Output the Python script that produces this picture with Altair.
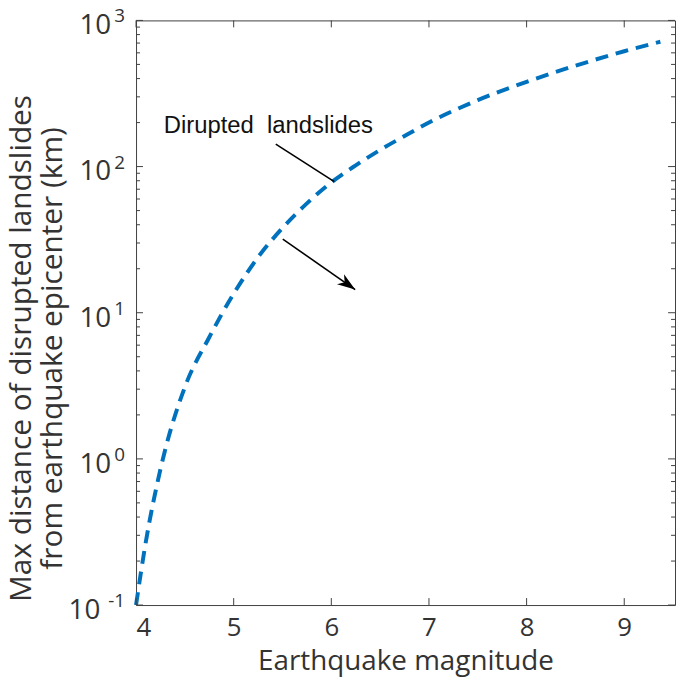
import altair as alt
import pandas as pd

# ---- data ----
magnitude = [4.0, 4.1, 4.25, 4.5, 4.75, 5.0, 5.25, 5.5, 5.75, 6.0, 6.25, 6.5, 6.75, 7.0,
             7.5, 8.0, 8.5, 9.0, 9.37]
distance_km = [0.1, 0.27, 0.85, 3.1, 6.8, 13.5, 24, 38, 56, 78, 102, 130, 162, 200,
               285, 380, 490, 615, 715]

x_ticks = [4, 5, 6, 7, 8, 9]
y_ticks = [0.1, 1, 10, 100, 1000]
y_exp = ["-1", "0", "1", "2", "3"]
y_minor = [m * 10.0 ** k for k in range(-1, 3) for m in range(2, 10)]

label_text = ["Dirupted\u00a0 landslides"]
label_x = [4.284]
label_y = [190]
pointer_x = [5.431, 6.030]
pointer_y = [142.6, 78.9]
arrow_x = [5.503, 6.244]
arrow_y = [31.9, 14.4]

W, H = 543, 589
FONT = "Open Sans"
TXT = "#333333"
BLUE = "#0072BD"

xs = alt.Scale(domain=[4, 9.52], nice=False, zero=False)
ys = alt.Scale(type="log", domain=[0.1, 1000], nice=False)

xaxis = alt.Axis(
    values=x_ticks, ticks=False, tickSize=0, domain=False, grid=False,
    labelFont=FONT, labelFontSize=26, labelColor=TXT, labelPadding=10,
    title="Earthquake magnitude", titleFont=FONT, titleFontSize=28,
    titleFontWeight="normal", titleColor=TXT, titleY=65,
    titleBaseline="alphabetic")
yaxis = alt.Axis(
    labels=False, ticks=False, tickSize=0, domain=False, grid=False,
    title=["Max distance of disrupted landslides", "from earthquake epicenter (km)"],
    titleFont=FONT, titleFontSize=30, titleFontWeight="normal", titleColor=TXT,
    titleX=-106, titleY=330, titleAngle=270, titleAlign="center",
    titleBaseline="alphabetic", titleLineHeight=31)


def X(f):
    return alt.X(f, scale=xs, axis=xaxis)


def Y(f):
    return alt.Y(f, scale=ys, axis=yaxis)


curve_df = pd.DataFrame({"m": magnitude, "d": distance_km})

curve = alt.Chart(curve_df).mark_line(
    color=BLUE, strokeWidth=4, strokeDash=[13, 8], interpolate="monotone"
).encode(x=X("m:Q"), y=Y("d:Q"), order="m:Q")

xt_df = pd.DataFrame({"v": x_ticks})
yt_df = pd.DataFrame({"v": y_ticks, "e": y_exp})
ym_df = pd.DataFrame({"v": y_minor})

tick_col = "#404040"
xb = alt.Chart(xt_df).mark_rule(color=tick_col, strokeWidth=1).encode(
    x=X("v:Q"), y=alt.value(H), y2=alt.value(H - 7))
xtop = alt.Chart(xt_df).mark_rule(color=tick_col, strokeWidth=1).encode(
    x=X("v:Q"), y=alt.value(0), y2=alt.value(7))
yl = alt.Chart(yt_df).mark_rule(color=tick_col, strokeWidth=1).encode(
    y=Y("v:Q"), x=alt.value(0), x2=alt.value(7))
yr = alt.Chart(yt_df).mark_rule(color=tick_col, strokeWidth=1).encode(
    y=Y("v:Q"), x=alt.value(W), x2=alt.value(W - 7))
yml = alt.Chart(ym_df).mark_rule(color=tick_col, strokeWidth=1).encode(
    y=Y("v:Q"), x=alt.value(0), x2=alt.value(4))
ymr = alt.Chart(ym_df).mark_rule(color=tick_col, strokeWidth=1).encode(
    y=Y("v:Q"), x=alt.value(W), x2=alt.value(W - 4))

base_pos = alt.Chart(yt_df).transform_filter("datum.v >= 1").mark_text(
    align="right", baseline="middle", dx=-25, dy=6, fontSize=28, font=FONT, color=TXT
).encode(y=Y("v:Q"), x=alt.value(0), text=alt.value("10"))
base_neg = alt.Chart(yt_df).transform_filter("datum.v < 1").mark_text(
    align="right", baseline="middle", dx=-36, dy=6, fontSize=28, font=FONT, color=TXT
).encode(y=Y("v:Q"), x=alt.value(0), text=alt.value("10"))
expo = alt.Chart(yt_df).mark_text(
    align="right", baseline="middle", dx=-11, dy=-4, fontSize=19, font=FONT, color=TXT
).encode(y=Y("v:Q"), x=alt.value(0), text="e:N")

lab = alt.Chart(pd.DataFrame({"x": label_x, "y": label_y, "t": label_text})).mark_text(
    align="left", baseline="middle", fontSize=24, font="Liberation Sans", color="#111111"
).encode(x=X("x:Q"), y=Y("y:Q"), text="t:N")

pointer = alt.Chart(pd.DataFrame({"x": pointer_x, "y": pointer_y, "o": [0, 1]})).mark_line(
    color="black", strokeWidth=1.6
).encode(x=X("x:Q"), y=Y("y:Q"), order="o:Q")

arrow = alt.Chart(pd.DataFrame({"x": arrow_x, "y": arrow_y, "o": [0, 1]})).mark_line(
    color="black", strokeWidth=1.6
).encode(x=X("x:Q"), y=Y("y:Q"), order="o:Q")

head = alt.Chart(pd.DataFrame({"x": arrow_x[-1:], "y": arrow_y[-1:]})).mark_point(
    shape="M0,0 L0.55,1.6 L0,1.15 L-0.55,1.6 Z", filled=True, color="black",
    size=506, angle=125, opacity=1, strokeWidth=0
).encode(x=X("x:Q"), y=Y("y:Q"))

chart = alt.layer(
    curve, xb, xtop, yl, yr, yml, ymr, base_pos, base_neg, expo, lab, pointer, arrow, head
).properties(
    width=W, height=H,
    autosize=alt.AutoSizeParams(type="none"),
    padding={"left": 129, "top": 10, "right": 2, "bottom": 73},
    background="white",
).configure_view(stroke="#404040", strokeWidth=1)

chart.save("out.html", embed_options={"renderer": "svg", "actions": False})
